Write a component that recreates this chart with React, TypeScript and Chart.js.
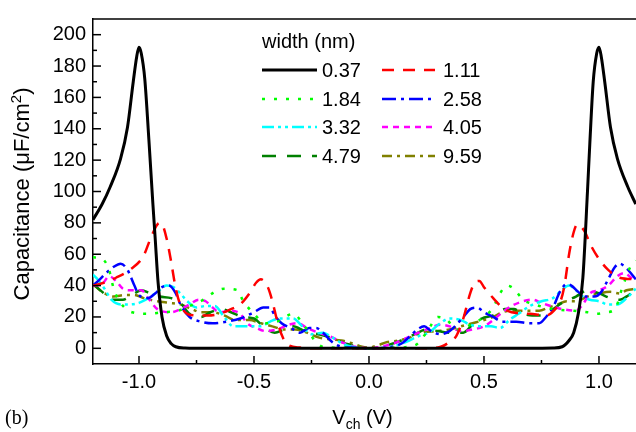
import React, { useEffect, useRef } from 'react';
import { Chart, registerables } from 'chart.js';

Chart.register(...registerables);

const FONT = '"Liberation Sans", Arial, Helvetica, sans-serif';

// ---- labels / ticks ----
const legendTitle = 'width (nm)';
const seriesLabels = ['0.37', '1.11', '1.84', '2.58', '3.32', '4.05', '4.79', '9.59'];
const xTicks = [-1.0, -0.5, 0.0, 0.5, 1.0];
const xMinorTicks = [-0.75, -0.25, 0.25, 0.75];
const yTicks = [0, 20, 40, 60, 80, 100, 120, 140, 160, 180, 200];
const yMinorTicks = [10, 30, 50, 70, 90, 110, 130, 150, 170, 190];

// ---- series data ----
const xW037 = [-1.2, -1.16, -1.125, -1.08, -1.05, -1.025, -1.01, -1.0, -0.99, -0.975, -0.957, -0.94, -0.93, -0.917, -0.9, -0.88, -0.86, -0.84, -0.8, -0.7, 0, 0.7, 0.8, 0.84, 0.87, 0.89, 0.91, 0.93, 0.95, 0.96, 0.975, 0.99, 1.0, 1.01, 1.025, 1.05, 1.08, 1.125, 1.16];
const yW037 = [82, 92, 103, 121, 141, 170, 186, 192, 188, 172, 133, 93, 71, 42, 20, 8, 3, 1, 0.2, 0, 0, 0, 0.2, 1, 5, 10, 22, 45, 100, 130, 170, 188, 192, 186, 170, 141, 121, 103, 92];

const xW111 = [-1.2, -1.15, -1.1, -1.04, -0.98, -0.95, -0.92, -0.905, -0.88, -0.86, -0.845, -0.83, -0.81, -0.79, -0.75, -0.7, -0.65, -0.6, -0.56, -0.52, -0.49, -0.47, -0.44, -0.42, -0.4, -0.375, -0.35, -0.3, -0.2, 0, 0.2, 0.3, 0.35, 0.38, 0.41, 0.44, 0.46, 0.48, 0.5, 0.54, 0.58, 0.62, 0.7, 0.77, 0.81, 0.835, 0.85, 0.87, 0.89, 0.905, 0.94, 0.96, 1.0, 1.04, 1.09, 1.16];
const yW111 = [40, 42, 45, 50, 59, 70, 79, 80, 70, 55, 42, 32, 25, 22, 21, 21, 22, 25, 28, 35, 42, 44, 39, 30, 18, 7, 2, 0.5, 0, 0, 0, 0.5, 4, 8, 19, 35, 42, 43, 39, 32, 26, 23, 22, 21, 25, 31, 40, 60, 74, 79, 74, 67, 57, 50, 45, 44];

const xW184 = [-1.2, -1.16, -1.13, -1.11, -1.08, -1.03, -0.96, -0.9, -0.83, -0.78, -0.72, -0.67, -0.63, -0.57, -0.55, -0.5, -0.45, -0.4, -0.33, -0.28, -0.23, -0.2, -0.1, 0, 0.1, 0.2, 0.25, 0.3, 0.34, 0.38, 0.44, 0.5, 0.54, 0.57, 0.6, 0.63, 0.67, 0.72, 0.8, 0.89, 0.95, 0.99, 1.03, 1.07, 1.1, 1.14, 1.16];
const yW184 = [58, 57, 50, 38, 29, 23, 22, 23, 24, 27, 31, 36, 38, 37, 31, 22, 16, 17, 22, 14, 4, 1, 0.3, 0, 0.3, 2, 10, 20, 18, 12, 15, 20, 26, 35, 40, 38, 31, 28, 25, 24, 23, 22, 23, 25, 38, 53, 56];

const xW258 = [-1.2, -1.17, -1.15, -1.11, -1.08, -1.05, -1.02, -1.0, -0.96, -0.93, -0.9, -0.87, -0.84, -0.82, -0.78, -0.73, -0.68, -0.62, -0.56, -0.5, -0.46, -0.43, -0.41, -0.38, -0.34, -0.3, -0.26, -0.23, -0.2, -0.16, -0.12, -0.08, 0, 0.08, 0.14, 0.18, 0.21, 0.24, 0.27, 0.31, 0.35, 0.38, 0.41, 0.44, 0.47, 0.5, 0.54, 0.58, 0.64, 0.7, 0.74, 0.77, 0.8, 0.83, 0.86, 0.88, 0.91, 0.94, 0.98, 1.01, 1.04, 1.07, 1.09, 1.12, 1.16];
const yW258 = [40, 44, 47, 52, 54, 50, 40, 34, 32, 35, 39, 40, 35, 28, 20, 17, 16, 17, 19, 23, 26, 26, 21, 16, 13, 10, 13, 13, 10, 4, 1, 0.5, 0, 0.5, 3, 8, 12, 14, 11, 9, 11, 15, 20, 25, 26, 23, 20, 17, 17, 16, 16, 20, 26, 36, 41, 40, 36, 33, 33, 36, 44, 52, 54, 51, 44];

const xW332 = [-1.2, -1.18, -1.15, -1.12, -1.08, -1.04, -1.0, -0.96, -0.92, -0.88, -0.85, -0.82, -0.79, -0.75, -0.71, -0.67, -0.63, -0.59, -0.53, -0.47, -0.43, -0.39, -0.33, -0.29, -0.25, -0.2, -0.16, -0.1, 0, 0.1, 0.16, 0.22, 0.26, 0.31, 0.35, 0.4, 0.44, 0.49, 0.53, 0.57, 0.61, 0.65, 0.7, 0.75, 0.8, 0.83, 0.87, 0.9, 0.93, 0.96, 1.0, 1.04, 1.08, 1.12, 1.16];
const yW332 = [47, 44, 38, 31, 28, 28, 29, 32, 36, 40, 39, 35, 30, 26, 27, 27, 20, 14, 14, 14, 17, 19, 19, 14, 9, 10, 7, 2, 0, 1, 4, 8, 10, 16, 19, 18, 15, 14, 14, 13, 18, 22, 27, 30, 32, 36, 40, 37, 33, 31, 30, 28, 28, 32, 38];

const xW405 = [-1.2, -1.16, -1.13, -1.1, -1.07, -1.04, -0.99, -0.96, -0.92, -0.86, -0.82, -0.78, -0.74, -0.71, -0.68, -0.65, -0.6, -0.56, -0.53, -0.49, -0.45, -0.4, -0.35, -0.31, -0.27, -0.22, -0.16, -0.12, -0.06, 0, 0.08, 0.14, 0.2, 0.25, 0.31, 0.35, 0.4, 0.45, 0.5, 0.54, 0.58, 0.62, 0.67, 0.71, 0.75, 0.79, 0.84, 0.9, 0.93, 0.96, 1.0, 1.04, 1.08, 1.11, 1.14, 1.16];
const yW405 = [40, 41, 46, 43, 38, 37, 37, 32, 25, 23, 25, 28, 31, 30, 26, 23, 24, 22, 16, 13, 11, 12, 15, 16, 13, 10, 7, 4, 1, 0, 2, 5, 9, 12, 15, 14, 11, 12, 14, 18, 23, 27, 30, 31, 29, 27, 25, 24, 28, 35, 37, 40, 46, 48, 45, 43];

const xW479 = [-1.2, -1.16, -1.12, -1.07, -1.03, -0.99, -0.95, -0.91, -0.86, -0.82, -0.78, -0.73, -0.69, -0.64, -0.6, -0.55, -0.5, -0.46, -0.41, -0.37, -0.33, -0.28, -0.22, -0.17, -0.1, 0, 0.08, 0.14, 0.2, 0.25, 0.3, 0.35, 0.41, 0.45, 0.49, 0.54, 0.59, 0.63, 0.67, 0.71, 0.75, 0.79, 0.84, 0.9, 0.95, 1.0, 1.05, 1.09, 1.13, 1.16];
const yW479 = [41, 36, 31, 31, 34, 37, 35, 33, 32, 29, 22, 20, 23, 25, 23, 20, 19, 14, 10, 12, 14, 11, 9, 7, 3, 0, 2, 5, 9, 12, 11, 10, 10, 15, 19, 21, 25, 25, 22, 21, 21, 24, 29, 33, 37, 35, 32, 31, 34, 37];

const xW959 = [-1.2, -1.16, -1.11, -1.06, -1.02, -0.98, -0.92, -0.87, -0.82, -0.77, -0.73, -0.68, -0.63, -0.58, -0.52, -0.47, -0.42, -0.37, -0.32, -0.27, -0.22, -0.18, -0.12, -0.07, -0.03, 0, 0.04, 0.08, 0.13, 0.18, 0.23, 0.3, 0.35, 0.4, 0.45, 0.5, 0.54, 0.58, 0.62, 0.66, 0.7, 0.74, 0.78, 0.82, 0.86, 0.9, 0.95, 1.0, 1.05, 1.09, 1.12, 1.16];
const yW959 = [41, 36, 33, 34, 34, 32, 30, 29, 28, 25, 23, 23, 21, 18, 18, 16, 14, 12, 12, 10, 7, 6, 5, 3, 1, 0.5, 2, 4, 5, 7, 10, 11, 12, 14, 16, 18, 20, 23, 24, 24, 24, 24, 26, 28, 30, 30, 33, 35, 36, 35, 37, 38];

const seriesX = [xW037, xW111, xW184, xW258, xW332, xW405, xW479, xW959];
const seriesY = [yW037, yW111, yW184, yW258, yW332, yW405, yW479, yW959];

// ---- styles ----
const seriesColors = ['#000000', '#ff0000', '#00ff00', '#0000ff', '#00ffff', '#ff00ff', '#008000', '#808000'];
const seriesDashes: number[][] = [[], [12, 9], [3, 9], [14, 5, 3, 5], [12, 4, 3, 4, 3, 4], [6, 5], [14, 11], [10, 5, 3, 5]];
const seriesWidths = [3, 2.5, 2.5, 2.5, 2.5, 2.5, 2.5, 2.5];

const decorPlugin = {
  id: 'decor',
  afterDatasetsDraw(chart: any) {
    const { ctx, chartArea: a, scales } = chart;
    const xs = scales.x;
    const ys = scales.y;
    ctx.save();
    ctx.strokeStyle = '#000';
    ctx.lineWidth = 1.5;
    ctx.setLineDash([]);
    const line = (x1: number, y1: number, x2: number, y2: number) => {
      ctx.beginPath();
      ctx.moveTo(x1, y1);
      ctx.lineTo(x2, y2);
      ctx.stroke();
    };
    // top border
    line(a.left, a.top, a.right, a.top);
    // inward ticks
    yTicks.forEach((v) => { const p = ys.getPixelForValue(v); line(a.left, p, a.left + 8, p); });
    yMinorTicks.forEach((v) => { const p = ys.getPixelForValue(v); line(a.left, p, a.left + 4, p); });
    xTicks.forEach((v) => { const p = xs.getPixelForValue(v); line(p, a.bottom, p, a.bottom - 8); });
    xMinorTicks.forEach((v) => { const p = xs.getPixelForValue(v); line(p, a.bottom, p, a.bottom - 4); });

    ctx.fillStyle = '#000';
    // x title: V_ch (V)
    ctx.textBaseline = 'alphabetic';
    ctx.textAlign = 'left';
    const big = `20px ${FONT}`;
    const small = `14px ${FONT}`;
    ctx.font = big;
    const wV = ctx.measureText('V').width;
    const wRest = ctx.measureText(' (V)').width;
    ctx.font = small;
    const wCh = ctx.measureText('ch').width;
    const total = wV + wCh + wRest;
    let tx = (a.left + a.right) / 2 - total / 2 - 2;
    const by = 424;
    ctx.font = big; ctx.fillText('V', tx, by); tx += wV;
    ctx.font = small; ctx.fillText('ch', tx, by + 5); tx += wCh;
    ctx.font = big; ctx.fillText(' (V)', tx, by);

    // y title
    ctx.save();
    ctx.translate(29, 194);
    ctx.rotate(-Math.PI / 2);
    const p1 = 'Capacitance (\u03BCF/cm';
    const yBig = `22px ${FONT}`;
    const ySmall = `15px ${FONT}`;
    ctx.font = yBig;
    const w1 = ctx.measureText(p1).width;
    const w3 = ctx.measureText(')').width;
    ctx.font = ySmall;
    const w2 = ctx.measureText('2').width;
    let ry = -(w1 + w2 + w3) / 2;
    ctx.font = yBig; ctx.fillText(p1, ry, 0); ry += w1;
    ctx.font = ySmall; ctx.fillText('2', ry, -8); ry += w2;
    ctx.font = yBig; ctx.fillText(')', ry, 0);
    ctx.restore();

    // panel label
    ctx.font = `20px "Liberation Serif", "Times New Roman", serif`;
    ctx.fillText('(b)', 5, 424);

    // legend
    ctx.font = big;
    ctx.textBaseline = 'middle';
    ctx.fillText(legendTitle, 262, 42);
    const rowY = [70, 99, 127, 156];
    const colLine = [[262, 317], [382, 435]];
    const colText = [322, 443];
    chart.data.datasets.forEach((ds: any, i: number) => {
      const col = i % 2;
      const row = Math.floor(i / 2);
      const y = rowY[row];
      ctx.save();
      ctx.strokeStyle = ds.borderColor;
      ctx.lineWidth = ds.borderWidth;
      ctx.setLineDash(ds.borderDash || []);
      line(colLine[col][0], y, colLine[col][1], y);
      ctx.restore();
      ctx.fillStyle = '#000';
      ctx.fillText(ds.label, colText[col], y + 1);
    });
    ctx.restore();
  },
};

export default function App() {
  const ref = useRef<HTMLCanvasElement>(null);
  useEffect(() => {
    const datasets = seriesLabels.map((label, i) => ({
      label,
      data: seriesX[i].map((x, j) => ({ x, y: seriesY[i][j] })),
      borderColor: seriesColors[i],
      backgroundColor: seriesColors[i],
      borderWidth: seriesWidths[i],
      borderDash: seriesDashes[i],
      pointRadius: 0,
      fill: false,
      cubicInterpolationMode: 'monotone' as const,
    }));
    const chart = new Chart(ref.current as HTMLCanvasElement, {
      type: 'line',
      data: { datasets },
      options: {
        animation: false,
        responsive: false,
        devicePixelRatio: 1,
        layout: { padding: { top: 7, right: 0, left: 0, bottom: 0 } },
        plugins: { legend: { display: false }, tooltip: { enabled: false } },
        scales: {
          x: {
            type: 'linear',
            min: -1.2,
            max: 1.161,
            afterBuildTicks: (s: any) => { s.ticks = xTicks.map((v) => ({ value: v })); },
            afterFit: (s: any) => { s.height = 68; },
            grid: { drawOnChartArea: false, drawTicks: false },
            border: { display: true, color: '#000', width: 1.5 },
            ticks: {
              padding: 6,
              color: '#000',
              font: { family: FONT, size: 20 },
              maxRotation: 0,
              autoSkip: false,
              callback: (v: any) => Number(v).toFixed(1),
            },
          },
          y: {
            type: 'linear',
            min: -10,
            max: 210,
            afterBuildTicks: (s: any) => { s.ticks = yTicks.map((v) => ({ value: v })); },
            afterFit: (s: any) => { s.width = 93; },
            grid: { drawOnChartArea: false, drawTicks: false },
            border: { display: true, color: '#000', width: 1.5 },
            ticks: {
              padding: 7,
              color: '#000',
              font: { family: FONT, size: 20 },
              autoSkip: false,
              callback: (v: any) => String(v),
            },
          },
        },
      },
      plugins: [decorPlugin],
    });
    return () => chart.destroy();
  }, []);
  return (
    <div style={{ position: 'absolute', left: 0, top: 0, width: 636, height: 432, background: '#fff' }}>
      <canvas ref={ref} width={636} height={432} style={{ display: 'block' }} />
    </div>
  );
}
